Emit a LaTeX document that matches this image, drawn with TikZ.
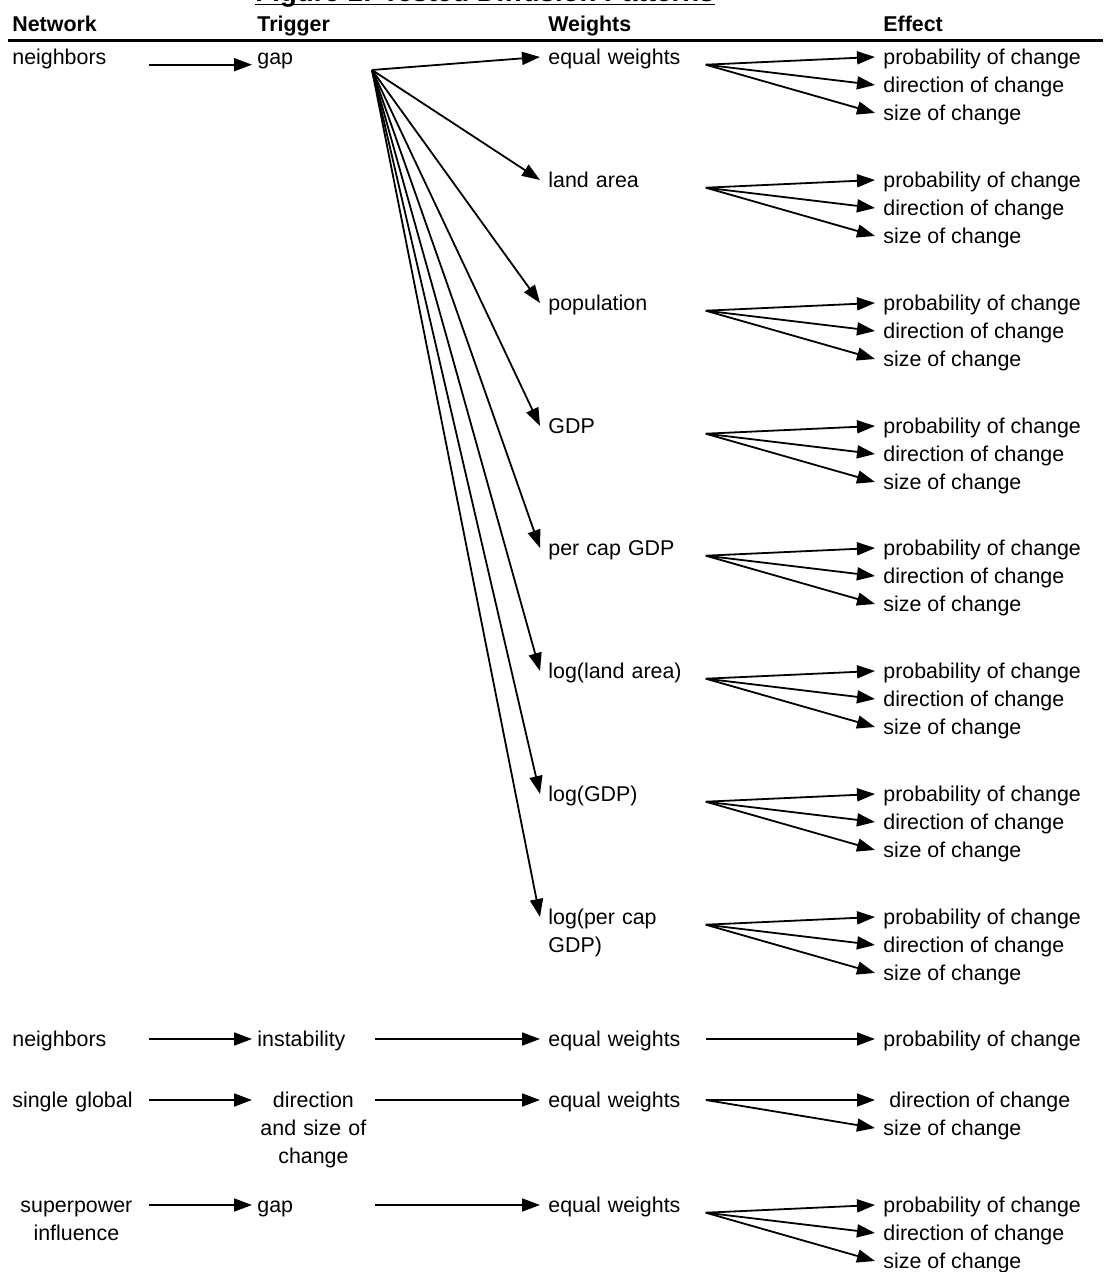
\documentclass[tikz,border=0pt]{standalone}
\usepackage{fontspec}
\setmainfont{Liberation Sans}
\usetikzlibrary{arrows.meta}

\newcommand{\diagfont}{\fontsize{10.7pt}{14pt}\selectfont}

\tikzset{
  arr/.style={-{Triangle[length=9pt,width=6.5pt]}, line width=0.9pt},
  lbl/.style={anchor=west, inner xsep=4pt, inner ysep=0pt, text height=7.7pt, text depth=0pt},
  multi/.style={text height=, text depth=, anchor=base west},
  head/.style={lbl, font=\diagfont\bfseries},
  title/.style={anchor=base, inner sep=0pt, font=\fontsize{13.8pt}{16pt}\selectfont\bfseries},
  netcol/.style={lbl, text width=64pt, align=left},
  trigcol/.style={lbl, inner xsep=2.5pt, text width=56pt, align=left},
  wtcol/.style={lbl, text width=74.5pt, align=left},
  eff/.style={lbl}
}

\begin{document}
\begin{tikzpicture}[x=0.5pt, y=-0.5pt, font=\diagfont]
	\useasboundingbox (0,0) rectangle (1103,1272);

	% title and column heads
	\node[title] (title) at (485,2) {Figure 1: Tested Diffusion Patterns};
	\draw[line width=0.8pt] ([yshift=-1.2pt]title.base west) -- ([yshift=-1.2pt]title.base east);
	\node[head] (hnet) at (4,24) {Network};
	\node[head] (htrig) at (249,24) {Trigger};
	\node[head] (hwt) at (540,24) {Weights};
	\node[head] (heff) at (875,24) {Effect};
	\draw[line width=1.5pt] (8,40.5) -- (1103,40.5);

	% neighbors -> gap
	\node[netcol] (net1) at (4,57) {neighbors};
	\node[trigcol] (trig1) at (252,57) {gap};
	\draw[arr] (net1.base east) -- (trig1.base west);
	\coordinate (fan) at (372,70);

	\node[wtcol] (wt1) at (540,57) {equal weights};
	\node[wtcol] (wt2) at (540,180) {land area};
	\node[wtcol] (wt3) at (540,303) {population};
	\node[wtcol] (wt4) at (540,426) {GDP};
	\node[wtcol] (wt5) at (540,548) {per cap GDP};
	\node[wtcol] (wt6) at (540,671) {log(land area)};
	\node[wtcol] (wt7) at (540,794) {log(GDP)};
	\node[wtcol, multi] (wt8) at (540,924.7) {log(per cap GDP)};

	\foreach \i/\y in {1/57,2/180,3/303,4/426,5/548,6/671,7/794,8/917} {
		\node[eff] (prob\i) at (875,\y) {probability of change};
		\node[eff] (dir\i) at (875,\y+28) {direction of change};
		\node[eff] (size\i) at (875,\y+56) {size of change};
		\draw[arr] (fan) -- (wt\i.west |- prob\i.west);
		\foreach \e in {prob,dir,size}
			\draw[arr] (wt\i.base east) -- (\e\i.west);
	}

	% neighbors -> instability
	\node[netcol] (net2) at (4,1039) {neighbors};
	\node[trigcol] (trig2) at (252,1039) {instability};
	\node[wtcol] (wt9) at (540,1039) {equal weights};
	\node[eff] (prob9) at (875,1039) {probability of change};
	\draw[arr] (net2.east) -- (trig2.west);
	\draw[arr] (trig2.east) -- (wt9.west);
	\draw[arr] (wt9.east) -- (prob9.west);

	% single global
	\node[netcol] (net3) at (4,1100) {single global};
	\node[trigcol, multi, align=center] (trig3) at (252,1107.7) {direction\\and size of\\change};
	\node[wtcol] (wt10) at (540,1100) {equal weights};
	\node[eff] (dir10) at (875,1100) {\ direction of change};
	\node[eff] (size10) at (875,1128) {size of change};
	\draw[arr] (net3.east) -- (trig3.west |- net3.east);
	\draw[arr] (trig3.east |- wt10.west) -- (wt10.west);
	\draw[arr] (wt10.east) -- (dir10.west);
	\draw[arr] (wt10.east) -- (size10.west);

	% superpower influence
	\node[netcol, multi, align=center] (net4) at (4,1212.7) {superpower\\influence};
	\node[trigcol] (trig4) at (252,1205) {gap};
	\node[wtcol] (wt11) at (540,1205) {equal weights};
	\node[eff] (prob11) at (875,1205) {probability of change};
	\node[eff] (dir11) at (875,1233) {direction of change};
	\node[eff] (size11) at (875,1261) {size of change};
	\draw[arr] (net4.east |- trig4.west) -- (trig4.west);
	\draw[arr] (trig4.east) -- (wt11.west);
	\foreach \e in {prob,dir,size}
		\draw[arr] (wt11.base east) -- (\e11.west);

\end{tikzpicture}
\end{document}
